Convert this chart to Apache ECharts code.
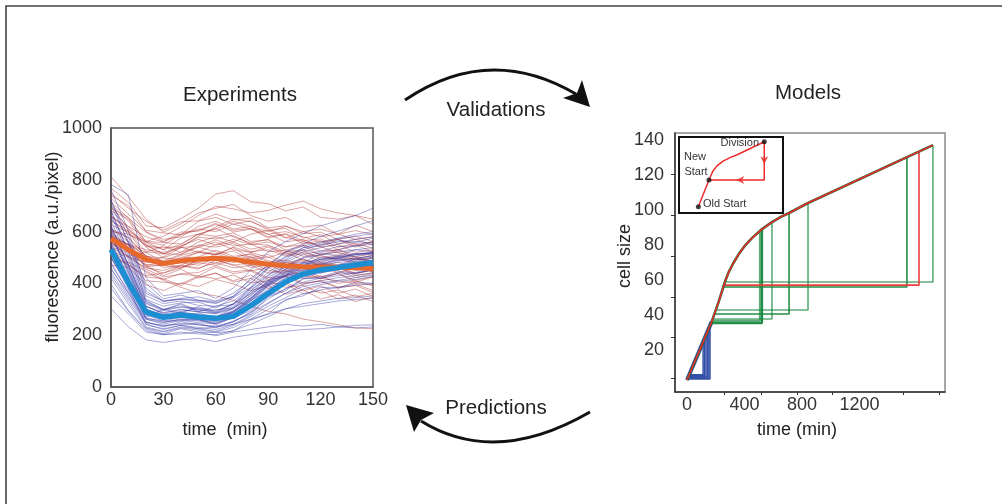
<!DOCTYPE html>
<html><head><meta charset="utf-8">
<script src="https://cdn.jsdelivr.net/npm/echarts@6/dist/echarts.min.js"></script>
<style>html,body{margin:0;padding:0;background:#fff}#c{width:1002px;height:504px}</style>
</head><body><div id="c"></div>
<script>
// ---------- Left panel: Experiments ----------
const timePoints = [0,10,20,30,40,50,60,70,80,90,100,110,120,130,140,150];
const xTicksLeft = [0,30,60,90,120,150];
const yTicksLeft = [0,200,400,600,800,1000];
const redTraces = [
 [612,575,505,488,512,540,522,498,515,488,470,492,468,455,482,470],
 [705,640,552,530,575,590,612,580,556,570,528,545,510,530,502,515],
 [548,530,462,440,468,455,490,472,448,462,430,445,418,438,405,425],
 [812,735,648,598,630,672,690,705,662,640,655,618,625,590,604,588],
 [505,470,425,418,392,425,440,410,432,395,405,372,390,362,378,350],
 [662,610,548,512,545,570,548,560,532,545,515,528,492,505,480,498],
 [575,552,472,468,490,478,515,492,505,470,482,458,470,440,462,445],
 [728,668,605,595,588,640,655,628,642,605,612,575,588,552,570,548],
 [470,462,395,372,402,388,415,398,372,392,358,375,340,356,330,348],
 [598,548,520,482,508,525,512,538,498,512,478,495,470,482,452,468],
 [690,655,560,548,588,605,632,598,610,575,590,552,565,530,548,522],
 [538,505,455,425,435,430,462,438,448,415,425,396,412,385,398,372],
 [768,712,622,615,650,690,745,758,715,708,680,695,655,648,662,628],
 [495,480,410,405,398,428,418,432,402,410,385,392,362,375,348,362],
 [625,598,522,515,512,548,540,555,522,530,505,515,482,498,472,488],
 [588,548,508,472,498,502,528,505,512,482,490,462,478,452,468,445],
 [715,652,598,562,598,602,628,605,612,580,592,565,572,540,555,535],
 [555,538,465,470,458,490,478,495,462,470,445,452,425,438,412,425],
 [655,620,542,538,542,578,572,585,552,548,522,530,512,522,495,508],
 [525,482,448,415,438,442,468,445,452,422,428,402,408,382,392,365],
 [605,578,505,498,492,520,512,525,492,502,472,485,452,468,435,455],
 [748,690,640,605,638,642,668,645,652,615,622,592,598,570,582,562],
 [562,548,482,478,462,488,495,502,472,478,452,458,445,450,422,438],
 [645,592,548,515,538,545,568,545,552,522,528,505,508,490,498,482],
 [682,648,562,558,552,590,582,595,562,568,542,548,525,530,512,518],
 [590,522,442,412,385,362,352,335,312,292,282,262,252,240,228,225],
 [642,602,562,582,618,662,698,688,672,682,702,718,688,672,662,648],
 [522,502,482,502,538,582,618,648,638,612,578,562,542,518,502,482],
 [600,530,470,430,455,420,440,405,420,380,398,360,372,340,355,330],
 [560,505,520,545,520,560,580,560,590,605,575,600,610,590,625,600],
 [680,620,580,560,590,610,600,630,610,590,600,580,560,570,550,560],
 [610,560,500,470,480,470,500,480,500,470,460,470,440,460,430,440],
 [540,520,470,480,500,520,510,540,520,540,510,520,500,510,490,500],
 [700,610,540,500,520,540,560,530,520,500,520,490,480,470,450,460],
 [580,550,530,520,540,520,550,570,550,560,540,560,550,570,540,560],
 [660,600,500,460,470,500,490,470,480,450,440,420,430,400,410,390],
 [520,470,430,440,460,480,470,490,470,480,460,470,450,460,440,450],
 [740,700,600,570,580,620,640,610,620,590,560,570,540,550,520,530],
 [600,590,560,530,550,590,610,640,620,600,620,600,580,590,570,580],
 [560,500,460,450,470,460,480,460,470,440,450,430,420,410,400,395]
];
const blueTraces = [
 [545,418,295,262,285,268,258,290,335,372,425,442,475,468,495,488],
 [625,472,325,298,318,290,312,318,378,412,468,482,515,508,530,522],
 [455,362,248,238,242,245,228,255,282,348,372,418,425,445,442,460],
 [722,552,338,312,325,328,305,345,385,458,492,538,545,565,558,575],
 [398,295,225,205,225,212,210,215,258,282,338,352,385,382,405,400],
 [578,455,298,280,278,285,270,305,342,408,432,478,472,495,492,510],
 [498,395,265,255,255,262,240,268,295,352,378,418,420,440,438,455],
 [665,505,335,298,322,295,298,305,368,402,458,468,502,495,515,512],
 [520,382,242,222,238,225,232,242,262,282,302,312,322,332,338,342],
 [602,462,312,282,292,302,288,322,382,442,488,522,538,552,562,555],
 [352,282,212,202,205,212,198,212,222,232,242,235,242,232,238,240],
 [762,602,382,332,342,348,332,362,412,472,522,552,582,602,622,642],
 [482,362,262,242,258,248,245,268,312,362,402,432,445,458,470,476],
 [562,422,282,262,272,262,255,282,332,392,432,462,472,488,490,502],
 [432,332,232,215,232,225,215,238,272,312,345,378,395,408,415,428],
 [682,522,352,322,332,315,312,332,382,432,482,512,525,542,545,562],
 [512,402,278,255,268,260,252,278,322,372,412,442,455,468,475,482],
 [592,442,302,272,288,275,272,292,342,398,442,468,485,498,505,518],
 [472,372,252,232,252,240,235,252,288,325,362,398,410,422,430,442],
 [642,492,322,295,308,300,285,312,362,422,465,498,510,522,530,538],
 [302,232,182,172,182,188,175,192,202,212,215,222,225,232,228,232],
 [782,742,422,352,362,372,342,382,452,522,562,592,622,642,662,690],
 [522,412,288,265,272,278,262,288,332,388,428,452,462,472,482,485],
 [552,432,292,270,278,270,268,288,338,392,432,458,465,482,485,498],
 [612,472,312,288,298,290,282,302,352,408,448,478,492,502,512,518],
 [442,342,242,225,238,230,222,242,278,322,362,388,402,412,422,432],
 [702,562,362,332,338,332,322,348,402,462,505,538,555,572,582,592],
 [382,292,218,202,212,205,202,218,242,272,302,322,332,342,345,352],
 [652,560,400,340,355,335,330,350,420,470,520,545,560,575,590,600],
 [540,400,270,300,285,310,290,320,360,400,430,450,470,455,475,470],
 [590,450,300,275,290,280,270,295,345,400,445,470,490,500,510,520],
 [500,380,262,248,262,255,245,270,310,360,400,425,440,455,460,470],
 [680,520,330,300,310,305,295,320,370,430,470,500,520,530,545,550],
 [460,350,250,235,245,240,232,250,290,340,380,405,420,430,440,450],
 [620,470,310,285,300,290,285,305,355,410,455,480,495,505,515,520],
 [540,410,280,262,270,268,258,280,325,380,420,445,460,470,478,485],
 [720,580,370,330,340,335,325,350,400,460,500,530,548,560,570,580],
 [420,320,228,212,228,220,212,230,262,300,335,360,375,385,392,400],
 [580,440,295,272,282,276,268,290,340,395,438,462,478,490,498,505],
 [500,390,268,250,262,258,248,272,318,365,405,430,448,458,466,472]
];
const orangeMean = [573,530,493,477,487,493,497,493,483,474,468,464,463,462,460,458];
const cyanMean   = [531,403,290,269,278,270,265,273,314,361,406,436,452,461,471,481];

// ---------- Right panel: Models ----------
const rightXLabels = [0,400,800,1200];
const rightXTicks = [257,515,765,1009,1503,1753];
const rightYLabels = [20,40,60,80,100,120,140];
const rightYTicks = [4,27.4,50.3,73.7,97.1,120.6];
const curveT = [0,172,220,264,290,320,360,400,450,522,591,650,710,842,1711];
const curveS = [2.9,36.2,47.5,59,64.5,69.3,74.8,79.3,83.8,89.1,93.1,95.9,98.3,104,137.1];
const greenDivT   = [508,522,591,710,842,1530,1711];
const greenTopS   = [88.3,89.1,93.1,98.3,104,130.2,137.1];
const greenLevelS = [36.6,35.4,37.7,40.6,42.9,56,58.9];
const greenStartT = [174,168,178,191,201,253,264];
const redDivT = [1614], redTopS = [133.3], redLevelS = [57.1], redStartT = [257];
const blueDivT   = [112,122,132,142,152,160];
const blueTopS   = [24.6,26.5,28.5,30.4,32.3,33.9];
const blueLevelS = [5.9,5.4,4.9,4.4,3.9,3.4];
const blueStartT = [16,13,11,8,5,3];

// ---------- Inset ----------
const insetX = [18.6,28.8,32.5,36.5,42,50,55.5,82,82,28.8];
const insetY = [8.3,43.4,55,62,68,73.5,76.3,93.8,43.4,43.4];
const insetDots = [[82,93.8],[28.8,43.4],[18.6,8.3]];
const insetArrowDown = [[82,64]];
const insetArrowLeft = [[55,43.4]];

const FONT = '"Liberation Sans", Arial, Helvetica, sans-serif';
const TXT = '#222';
const chart = echarts.init(document.getElementById('c'));
const series = [];
const plain = v => String(v);

redTraces.forEach(tr => series.push({
  type:'line', xAxisIndex:0, yAxisIndex:0, symbol:'none', silent:true, z:2,
  data: timePoints.map((t,i)=>[t,tr[i]]),
  lineStyle:{color:'rgba(172,40,40,0.42)', width:1}
}));
blueTraces.forEach(tr => series.push({
  type:'line', xAxisIndex:0, yAxisIndex:0, symbol:'none', silent:true, z:3,
  data: timePoints.map((t,i)=>[t,tr[i]]),
  lineStyle:{color:'rgba(38,40,160,0.4)', width:1}
}));
series.push({type:'line', xAxisIndex:0, yAxisIndex:0, symbol:'none', silent:true, z:5,
  data: timePoints.map((t,i)=>[t,orangeMean[i]]), lineStyle:{color:'#E8692C', width:5}});
series.push({type:'line', xAxisIndex:0, yAxisIndex:0, symbol:'none', silent:true, z:6,
  data: timePoints.map((t,i)=>[t,cyanMean[i]]), lineStyle:{color:'#1C8FD3', width:5.5}});

// right panel cycles
function cycle(st, lv, dt, top){ return [[st,lv],[dt,lv],[dt,top]]; }
blueDivT.forEach((d,i)=>series.push({type:'line', xAxisIndex:1, yAxisIndex:1, symbol:'none', silent:true, z:3,
  data: cycle(blueStartT[i], blueLevelS[i], d, blueTopS[i]), lineStyle:{color:'#3452A8', width:1.5}}));
series.push({type:'line', xAxisIndex:1, yAxisIndex:1, symbol:'none', silent:true, z:3,
  data: curveT.slice(0,2).map((t,i)=>[t,curveS[i]]), lineStyle:{color:'#3452A8', width:4}});
greenDivT.forEach((d,i)=>series.push({type:'line', xAxisIndex:1, yAxisIndex:1, symbol:'none', silent:true, z:4,
  data: cycle(greenStartT[i], greenLevelS[i], d, greenTopS[i]),
  lineStyle:{color:'#17873D', width: i<2?2.2:1.6, opacity: i%2? 0.95:0.7}}));
redDivT.forEach((d,i)=>series.push({type:'line', xAxisIndex:1, yAxisIndex:1, symbol:'none', silent:true, z:5,
  data: cycle(redStartT[i], redLevelS[i], d, redTopS[i]), lineStyle:{color:'#EE3B3B', width:1.6}}));
series.push({type:'line', xAxisIndex:1, yAxisIndex:1, symbol:'none', silent:true, z:6,
  data: curveT.map((t,i)=>[t,curveS[i]]), lineStyle:{color:'#1F6B35', width:2.6}});
series.push({type:'line', xAxisIndex:1, yAxisIndex:1, symbol:'none', silent:true, z:7,
  data: curveT.map((t,i)=>[t,curveS[i]]), lineStyle:{color:'#EE2A2A', width:1.5}});

// inset
series.push({type:'line', xAxisIndex:2, yAxisIndex:2, symbol:'none', silent:true, z:20,
  data: insetX.map((x,i)=>[x,insetY[i]]), lineStyle:{color:'#EE2A2A', width:1.5}});
series.push({type:'scatter', xAxisIndex:2, yAxisIndex:2, silent:true, z:21, symbol:'circle', symbolSize:5,
  data: insetDots, itemStyle:{color:'#111'}});
series.push({type:'scatter', xAxisIndex:2, yAxisIndex:2, silent:true, z:21, symbol:'arrow', symbolSize:[6,8], symbolRotate:180,
  data: insetArrowDown, itemStyle:{color:'#EE2A2A'}});
series.push({type:'scatter', xAxisIndex:2, yAxisIndex:2, silent:true, z:21, symbol:'arrow', symbolSize:[6,8], symbolRotate:90,
  data: insetArrowLeft, itemStyle:{color:'#EE2A2A'}});

function txt(text, x, y, size, opts){
  return Object.assign({type:'text', x:x, y:y, silent:true, z:50,
    style:{text:text, x:0, y:0, fill:TXT, font: size+'px '+FONT, textAlign:'center', textVerticalAlign:'middle'}}, opts||{});
}
function small(text, x, y, align){
  return {type:'text', x:x, y:y, silent:true, z:60,
    style:{text:text, x:0, y:0, fill:'#333', font:'11px '+FONT, textAlign:align, textVerticalAlign:'middle'}};
}

const option = {
  animation:false,
  backgroundColor:'#fff',
  grid:[
    {left:111, top:128, width:262, height:259, show:true, borderColor:'#555', borderWidth:1.5, outerBoundsMode:'none', containLabel:false},
    {left:675, top:133, width:270, height:259, show:true, borderColor:'#8a8a8a', borderWidth:1.5, outerBoundsMode:'none', containLabel:false},
    {left:679, top:137, width:104, height:76, show:true, borderColor:'#111', borderWidth:2, backgroundColor:'#fff', outerBoundsMode:'none', containLabel:false, z:10}
  ],
  xAxis:[
    {gridIndex:0, type:'value', min:xTicksLeft[0], max:xTicksLeft[xTicksLeft.length-1], interval:30,
     axisLine:{lineStyle:{color:'#555', width:1.5}}, axisTick:{show:false}, splitLine:{show:false},
     axisLabel:{color:'#333', fontSize:18, fontFamily:FONT, margin:4, formatter:plain}},
    {gridIndex:1, type:'value', min:-83.5, max:1795,
     axisLine:{onZero:false, lineStyle:{color:'#333', width:1.5}}, splitLine:{show:false},
     axisTick:{show:true, length:3, lineStyle:{color:'#333'}, customValues:rightXTicks},
     axisLabel:{color:'#333', fontSize:18, fontFamily:FONT, margin:4, customValues:rightXLabels, formatter:plain}},
    {gridIndex:2, type:'value', min:0, max:100, show:false}
  ],
  yAxis:[
    {gridIndex:0, type:'value', min:yTicksLeft[0], max:yTicksLeft[yTicksLeft.length-1], interval:200,
     axisLine:{show:true, lineStyle:{color:'#555', width:1.5}}, axisTick:{show:false}, splitLine:{show:false},
     axisLabel:{color:'#333', fontSize:18, fontFamily:FONT, margin:9, formatter:plain}},
    {gridIndex:1, type:'value', min:-4, max:144,
     axisLine:{show:true, onZero:false, lineStyle:{color:'#333', width:1.5}}, splitLine:{show:false},
     axisTick:{show:true, length:4, lineStyle:{color:'#333'}, customValues:rightYTicks},
     axisLabel:{color:'#333', fontSize:18, fontFamily:FONT, margin:11, customValues:rightYLabels, formatter:plain}},
    {gridIndex:2, type:'value', min:0, max:100, show:false}
  ],
  series: series,
  graphic:[
    {type:'polyline', silent:true, shape:{points:[[6,504],[6,6],[1002,6]]}, style:{stroke:'#444', lineWidth:1.6, fill:null}},
    txt('Experiments', 240, 95, 20.5),
    txt('Models', 808, 93, 20.5),
    txt('Validations', 496, 110, 20.5),
    txt('Predictions', 496, 408, 20.5),
    txt('time  (min)', 225, 430, 18),
    txt('fluorescence (a.u./pixel)', 53, 247, 18, {rotation:Math.PI/2}),
    txt('time (min)', 797, 430, 18),
    txt('cell size', 625, 256, 18, {rotation:Math.PI/2}),
    small('Division', 759, 143, 'right'),
    small('New', 695, 157, 'center'),
    small('Start', 696, 172, 'center'),
    small('Old Start', 703, 204, 'left'),
    {type:'bezierCurve', silent:true, shape:{x1:405,y1:100,x2:576,y2:94,cpx1:489,cpy1:43}, style:{stroke:'#111', lineWidth:3, fill:null}},
    {type:'polygon', silent:true, shape:{points:[[590,107],[582,80],[577,93],[563,98]]}, style:{fill:'#111'}},
    {type:'bezierCurve', silent:true, shape:{x1:590,y1:412,x2:421,y2:421,cpx1:495,cpy1:467}, style:{stroke:'#111', lineWidth:3, fill:null}},
    {type:'polygon', silent:true, shape:{points:[[406,405],[434,413],[421,420],[414,432]]}, style:{fill:'#111'}}
  ]
};
chart.setOption(option);
</script>
</body></html>
